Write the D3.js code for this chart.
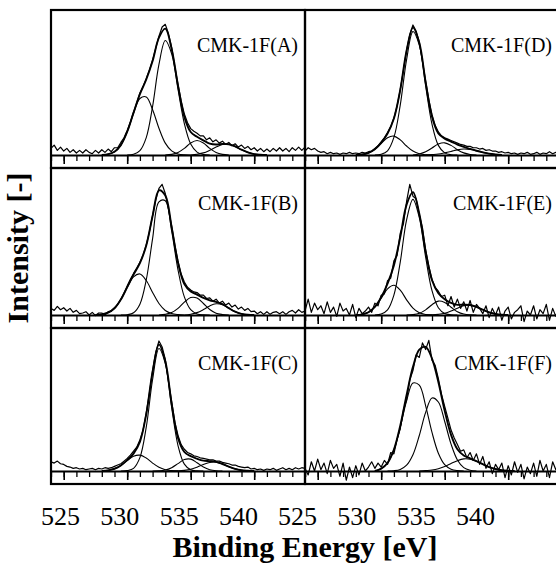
<!DOCTYPE html>
<html>
<head>
<meta charset="utf-8">
<script src="https://cdn.jsdelivr.net/npm/d3@7"></script>
<style>
  body { margin: 0; background: #fff; }
  text { font-family: "Liberation Serif", "Times New Roman", serif; fill: #000; }
</style>
</head>
<body>
<svg></svg>
<script>
// binding energy grid of the measured spectra (0.25 eV steps) and the fit grid (0.5 eV)
const E_MIN = 524, E_MAX = 544;
const SPEC_STEP = 0.25;
const COMP_STEP = 0.5;
const TICK_LABELS = [525, 530, 535, 540];
const PANEL_NAMES = ['CMK-1F(A)', 'CMK-1F(B)', 'CMK-1F(C)', 'CMK-1F(D)', 'CMK-1F(E)', 'CMK-1F(F)'];

// measured O1s spectra, 524 ... 544 eV
const SPEC_A = [
  5, 7.5, 3.5, 6, 3, 5, 2, 4,
  1.5, 3.5, 1.5, 4, 2, 1, 3.5, 1.5,
  4, 2, 4.5, 2.5, 5.5, 5.5, 9.5, 13,
  18.5, 25, 32.5, 39.5, 47, 52, 58, 64.5,
  72, 81, 90, 97, 99, 92, 81.5, 67,
  53.5, 41, 31, 24.5, 20, 18, 16.5, 14.5,
  14.5, 11.5, 13, 10, 11.5, 9, 10.5, 8,
  9.5, 7, 8.5, 6, 7.5, 5, 6.5, 4,
  5.5, 3, 5, 2.5, 4.5, 2.5, 5, 3,
  5.5, 3, 5, 2.5, 5.5, 3.5, 6, 3.5,
  6];
const SPEC_B = [
  5, 3.5, 6.5, 4, 5.5, 3, 5, 2,
  3.5, 1, 1.5, 2.5, 0, 2, -0.5, 1.5,
  1.5, 0, 2.5, 3, 5.5, 8, 12, 16.5,
  22, 27, 31.5, 35.5, 40, 45.5, 53, 63,
  75.5, 87, 96, 99, 92, 80, 67.5, 53,
  41, 31, 25, 21, 19, 17.5, 17, 15,
  15, 12.5, 13, 10.5, 12, 9, 10.5, 7.5,
  9, 6, 7.5, 4.5, 6, 3.5, 5, 2.5,
  3, 1, 2.5, 0.5, 2.5, 0.5, 2, 2.5,
  1, 2.5, 0.5, 2.5, 3.5, 1.5, 4, 2,
  3];
const SPEC_C = [
  7, 6, 7.5, 5.5, 5, 3.5, 3, 2,
  2.5, 1.5, 2, 1, 1.5, 2, 1, 2,
  1.5, 2.5, 2, 2.5, 3.5, 4.5, 5.5, 7.5,
  9.5, 12, 15, 18, 23.5, 31, 44, 59,
  76, 90, 98.5, 94, 84.5, 68, 52.5, 37,
  27, 20, 16.5, 14, 13, 11.5, 11, 10,
  9.5, 9, 8.5, 8.5, 7.5, 7.5, 6.5, 6,
  5.5, 4.5, 4.5, 3.5, 3, 2.5, 3, 1.5,
  2, 1, 1.5, 0.5, 1.5, 1, 2, 0.5,
  1.5, 2.5, 1, 2, 1, 2.5, 1.5, 2.5,
  2];
const SPEC_D = [
  3, 5.5, 4, 5, 3, 2, 2.5, 1,
  2, 1, 1.5, 0.5, 1.5, 1, 2, 1,
  1.5, 1, 2, 1.5, 2.5, 3, 5, 7,
  10, 13, 17, 21.5, 28, 37, 49.5, 64,
  79.5, 91, 98.5, 94, 85.5, 71, 56, 42,
  30.5, 22.5, 17.5, 14.5, 13, 12, 11, 10,
  9, 8, 7.5, 6.5, 6.5, 5.5, 5.5, 4.5,
  5, 3.5, 4, 3, 3, 2, 2.5, 1.5,
  2, 1, 1.5, 0.5, 1.5, 1, 2, 0.5,
  1, 2, 0.5, 1.5, 1, 2.5, 1, 2,
  3];
const SPEC_E = [
  3, 12, 2, 9, 4, 7, 1, 10,
  2, 6, -1, 9, 3, 5, 0, 8,
  -2, 5, 1, 3, 6, 2, 9, 7,
  15, 16, 26, 28, 41, 45, 62, 69,
  86, 99, 90, 88, 76, 66, 49, 37,
  27, 21, 18, 14, 15, 7, 14, 6,
  12, 5, 10, 3, 11, 2, 8, 5,
  1, 7, -2, 5, 0, 6, -4, 3,
  6, -3, 2, 4, 7, -5, 3, 0,
  7, -3, 4, 1, 8, -4, 5, -1,
  7];
const SPEC_F = [
  2, -3, 7, 0, 9, 1, 6, -2,
  8, 2, 5, -4, 6, -7, 3, -5,
  4, -3, 6, 0, 3, 7, 2, 6,
  3, 8, 5, 14, 13, 24, 32, 46,
  54, 69, 76, 88, 86, 97, 92, 99,
  84, 80, 70, 58, 49, 40, 31, 25,
  20, 15, 16, 10, 14, 8, 13, 5,
  11, 2, 7, -2, 5, 1, 6, -5,
  4, -3, 7, -1, 5, -6, 3, -2,
  6, -4, 8, 0, 5, -5, 7, 1,
  6];

// fitted components, start energy + values every 0.5 eV
const COMPS_A = [
  {start: 528,   y: [0, 0.6, 2.4, 7.5, 17.6, 31.6, 42.8, 44, 34.3, 20.3, 9, 3.1, 0.8, 0.1, 0]},
  {start: 530,   y: [0, 0.5, 3.3, 13.2, 36.9, 68.6, 86.7, 76.7, 49.9, 23.8, 8.3, 2.2, 0.4, 0]},
  {start: 533,   y: [0, 0.5, 1.9, 5, 9.1, 11, 9.1, 5, 1.9, 0.5, 0]},
  {start: 535,   y: [0, 0.6, 1.6, 3.6, 6, 7.9, 8.1, 6.5, 4, 2, 0.7, 0.2, 0]}
];
const COMPS_B = [
  {start: 527.5, y: [0, 0.5, 1.8, 5.1, 11.7, 20.9, 28.9, 31.1, 26.1, 17.1, 8.7, 3.4, 1.1, 0.3, 0]},
  {start: 529.5, y: [0, 0.2, 1.7, 8.2, 26.6, 57.9, 85.7, 86.6, 63.7, 34.2, 13.7, 4, 0.8, 0.1, 0]},
  {start: 532.5, y: [0, 0.5, 1.8, 5, 9.7, 13.2, 12.8, 8.7, 4.2, 1.4, 0.4, 0]},
  {start: 534.5, y: [0, 0.6, 1.8, 4.1, 6.9, 8.5, 7.8, 5.2, 2.5, 0.9, 0.2, 0]}
];
const COMPS_C = [
  {start: 528,   y: [0, 0.5, 1.7, 4.2, 7.9, 11.2, 12, 9.8, 6, 2.8, 1, 0.3, 0]},
  {start: 529.5, y: [0, 0.3, 2, 10.1, 33.2, 69.3, 92.8, 81.4, 48.2, 19.3, 5.2, 0.9, 0.1, 0]},
  {start: 532,   y: [0, 0.1, 0.7, 2.5, 5.6, 8.7, 9, 6.3, 3, 1, 0.2, 0]},
  {start: 533.5, y: [0, 0.1, 0.5, 1.3, 2.9, 4.9, 6.5, 6.7, 5.3, 3.3, 1.6, 0.6, 0.2, 0]}
];
const COMPS_D = [
  {start: 528,   y: [0, 0.4, 1.6, 4.3, 8.7, 13.1, 14.3, 11.5, 6.8, 3, 1, 0.2, 0]},
  {start: 529.5, y: [0, 0.6, 3.2, 13.3, 37.8, 72.3, 93.5, 83.2, 52.4, 23.3, 7.3, 1.6, 0.2, 0]},
  {start: 532.5, y: [0, 0.8, 2.4, 5.3, 8.3, 9.2, 7.3, 4, 1.6, 0.4, 0]},
  {start: 533.5, y: [0, 0.3, 0.7, 1.6, 2.7, 3.9, 4.5, 4.2, 3.2, 2, 1, 0.4, 0]}
];
const COMPS_E = [
  {start: 528,   y: [0, 0.5, 2.1, 6.1, 12.7, 19.8, 22.5, 18.8, 11.5, 5.2, 1.7, 0.4, 0]},
  {start: 529.5, y: [0, 0.7, 3.9, 15.1, 40.1, 72.1, 87.6, 73.7, 43.8, 18.4, 5.5, 1.1, 0.2, 0]},
  {start: 532,   y: [0, 0.3, 1.3, 3.9, 7.8, 10.5, 9.5, 5.9, 2.5, 0.7, 0.1, 0]},
  {start: 533.5, y: [0, 0.1, 0.5, 1.3, 3, 5.2, 7.1, 7.5, 6.2, 4, 2, 0.8, 0.2, 0]}
];
const COMPS_F = [
  {start: 529.5, y: [0, 1.8, 6.1, 16, 33.1, 53.2, 66.6, 65, 49.4, 29.2, 13.5, 4.8, 1.4, 0.3, 0]},
  {start: 530.5, y: [0, 0.2, 1.2, 4.4, 12.3, 26.9, 44.4, 55.3, 52.3, 37.5, 20.4, 8.4, 2.6, 0.6, 0]},
  {start: 533,   y: [0, 0.3, 0.7, 1.7, 3.4, 5.6, 7.8, 9.2, 9, 7.4, 5.2, 3, 1.5, 0.6, 0.2, 0]}
];

const SPECTRA = [SPEC_A, SPEC_B, SPEC_C, SPEC_D, SPEC_E, SPEC_F];
const COMPONENTS = [COMPS_A, COMPS_B, COMPS_C, COMPS_D, COMPS_E, COMPS_F];

// layout
const WIDTH = 556, HEIGHT = 569;
const COL_EDGES = [51, 305, 559];
const ROW_EDGES = [10, 168, 328, 484];
const BASE_GAP = 13;     // baseline sits above the panel bottom
const FULL_SCALE = 132;  // px for 100 intensity units

const svg = d3.select('svg').attr('width', WIDTH).attr('height', HEIGHT);
svg.append('rect').attr('width', WIDTH).attr('height', HEIGHT).attr('fill', '#fff');

const energies = SPEC_A.map((_, i) => E_MIN + i * SPEC_STEP);

PANEL_NAMES.forEach((name, p) => {
  const col = Math.floor(p / 3), row = p % 3;
  const x0 = COL_EDGES[col], x1 = COL_EDGES[col + 1];
  const y0 = ROW_EDGES[row], y1 = ROW_EDGES[row + 1];
  const baseline = y1 - BASE_GAP;

  const x = d3.scaleLinear().domain([E_MIN, E_MAX]).range([x0, x1]);
  const y = d3.scaleLinear().domain([0, 100]).range([baseline, baseline - FULL_SCALE]);

  const g = svg.append('g');
  const clipId = 'clip' + p;
  svg.append('clipPath').attr('id', clipId)
    .append('rect').attr('x', x0).attr('y', y0).attr('width', x1 - x0).attr('height', y1 - y0);
  const plot = g.append('g').attr('clip-path', `url(#${clipId})`);

  const line = d3.line().x(d => x(d[0])).y(d => y(d[1]));
  const smooth = d3.line().x(d => x(d[0])).y(d => y(d[1])).curve(d3.curveCatmullRom);

  // measured spectrum
  plot.append('path')
    .datum(SPECTRA[p].map((v, i) => [energies[i], v]))
    .attr('d', line)
    .attr('fill', 'none').attr('stroke', '#000').attr('stroke-width', 1.2)
    .attr('stroke-linejoin', 'round');

  // components
  const comps = COMPONENTS[p];
  comps.forEach(c => {
    plot.append('path')
      .datum(c.y.map((v, i) => [c.start + i * COMP_STEP, v]))
      .attr('d', smooth)
      .attr('fill', 'none').attr('stroke', '#000').attr('stroke-width', 1.1);
  });

  // envelope = sum of components
  const gridStart = d3.min(comps, c => c.start);
  const gridEnd = d3.max(comps, c => c.start + (c.y.length - 1) * COMP_STEP);
  const nGrid = Math.round((gridEnd - gridStart) / COMP_STEP) + 1;
  const envelope = d3.range(nGrid).map(i => {
    const e = gridStart + i * COMP_STEP;
    const sum = d3.sum(comps, c => {
      const k = Math.round((e - c.start) / COMP_STEP);
      return k >= 0 && k < c.y.length ? c.y[k] : 0;
    });
    return [e, sum];
  });
  plot.append('path')
    .datum(envelope)
    .attr('d', smooth)
    .attr('fill', 'none').attr('stroke', '#000').attr('stroke-width', 1.9);

  // baseline axis with minor and major ticks
  const minorAxis = g.append('g')
    .attr('transform', `translate(0,${baseline})`)
    .call(d3.axisBottom(x).tickValues(d3.range(E_MIN, E_MAX + 1)).tickSize(6).tickSizeOuter(0).tickFormat(''));
  minorAxis.select('.domain').attr('stroke-width', 2.2);
  minorAxis.selectAll('.tick line').attr('stroke-width', 1.3);
  const majorAxis = g.append('g')
    .attr('transform', `translate(0,${baseline})`)
    .call(d3.axisBottom(x).tickValues(TICK_LABELS).tickSize(9).tickFormat(''));
  majorAxis.select('.domain').remove();
  majorAxis.selectAll('.tick line').attr('stroke-width', 1.6);

  // panel frame
  g.append('rect')
    .attr('x', x0).attr('y', y0).attr('width', x1 - x0).attr('height', y1 - y0)
    .attr('fill', 'none').attr('stroke', '#000').attr('stroke-width', 2.2);

  g.append('text')
    .attr('x', x1 - 7).attr('y', y0 + 42)
    .attr('text-anchor', 'end')
    .style('font-size', '20px')
    .text(name);
});

// energy labels under the two columns
const LABEL_SPANS = [[60, 238], [297, 475]];
LABEL_SPANS.forEach(span => {
  const lx = d3.scaleLinear().domain([TICK_LABELS[0], TICK_LABELS[TICK_LABELS.length - 1]]).range(span);
  const ax = svg.append('g')
    .attr('transform', 'translate(0,525)')
    .call(d3.axisBottom(lx).tickValues(TICK_LABELS).tickSize(0).tickFormat(d3.format('d')));
  ax.select('.domain').remove();
  ax.attr('font-family', null).attr('font-size', null);
  ax.selectAll('text')
    .attr('y', 0).attr('dy', 0)
    .style('font-size', '26px');
});

svg.append('text')
  .attr('x', 305).attr('y', 557)
  .attr('text-anchor', 'middle')
  .style('font-size', '30px').style('font-weight', 'bold')
  .text('Binding Energy [eV]');

svg.append('text')
  .attr('transform', 'translate(28,248) rotate(-90)')
  .attr('text-anchor', 'middle')
  .style('font-size', '30px').style('font-weight', 'bold')
  .text('Intensity [-]');
</script>
</body>
</html>
